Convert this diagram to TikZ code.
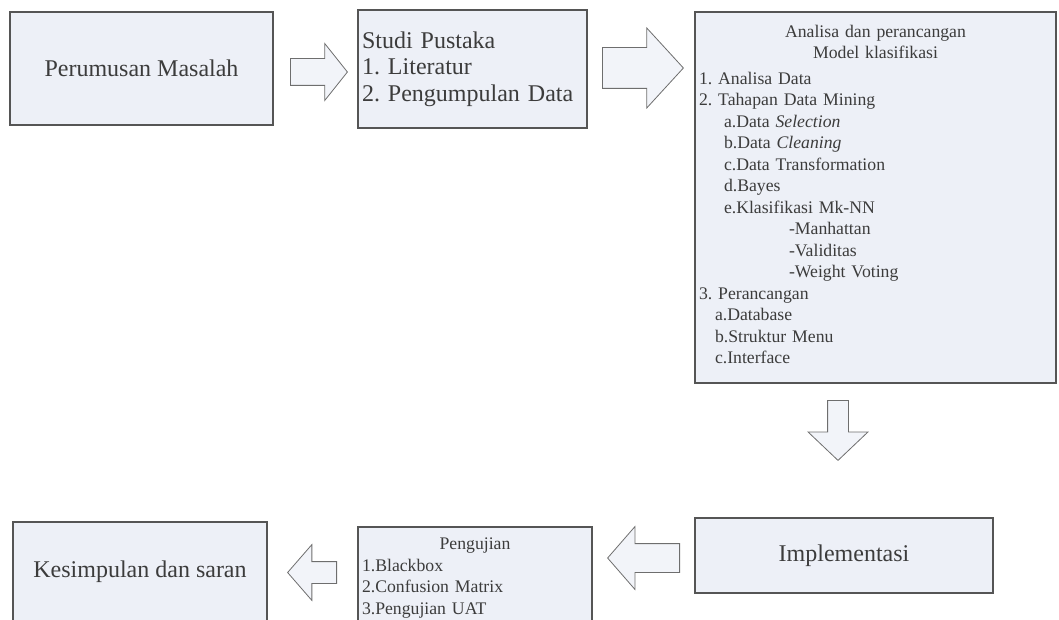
\documentclass[tikz,border=0pt]{standalone}
\usepackage{fontspec}
\setmainfont{Liberation Serif}
\frenchspacing
\usetikzlibrary{shapes.arrows}
\definecolor{boxfill}{RGB}{237,240,247}
\definecolor{boxline}{RGB}{85,85,85}
\definecolor{arrowfill}{RGB}{242,244,249}
\definecolor{arrowline}{RGB}{110,110,110}
\definecolor{txt}{RGB}{60,60,60}
\tikzset{
  stage/.style={draw=boxline, fill=boxfill, line width=1.2pt, inner sep=0pt, text=txt},
  bigtxt/.style={font=\fontsize{24}{26.5}\selectfont},
  smalltxt/.style={font=\fontsize{17.7}{21.5}\selectfont},
  flow/.style={single arrow, draw=arrowline, fill=arrowfill, line width=0.8pt, inner xsep=0pt, anchor=tail},
}
\begin{document}
\begin{tikzpicture}[x=1pt, y=-1pt]
	\useasboundingbox (0,0) rectangle (1059,620);

	\node[stage, bigtxt, minimum width=263, minimum height=113] (perumusan) at (141.5,68.5) {Perumusan Masalah};
	\node[stage, bigtxt, minimum width=229, minimum height=118, text width=221, align=left] (studi) at (472.5,69) {Studi Pustaka\\1. Literatur\\2. Pengumpulan Data};
	\node[stage, smalltxt, minimum width=361, minimum height=371, text width=353, align=left] (analisa) at (875.5,197.5) {%
		\makebox[353pt]{Analisa dan perancangan}\\
		\makebox[353pt]{Model klasifikasi}\\[4pt]
		1. Analisa Data\\
		2. Tahapan Data Mining\\
		\hspace*{25pt}a.Data \textit{Selection}\\
		\hspace*{25pt}b.Data \textit{Cleaning}\\
		\hspace*{25pt}c.Data Transformation\\
		\hspace*{25pt}d.Bayes\\
		\hspace*{25pt}e.Klasifikasi Mk-NN\\
		\hspace*{90pt}-Manhattan\\
		\hspace*{90pt}-Validitas\\
		\hspace*{90pt}-Weight Voting\\
		3. Perancangan\\
		\hspace*{16pt}a.Database\\
		\hspace*{16pt}b.Struktur Menu\\
		\hspace*{16pt}c.Interface\strut};
	\node[stage, bigtxt, minimum width=298, minimum height=75] (implementasi) at (844,555.5) {Implementasi};
	\node[stage, smalltxt, minimum width=234, minimum height=102, text width=226, align=left] (pengujian) at (475,578) {%
		\makebox[226pt]{Pengujian}\\
		1.Blackbox\\
		2.Confusion Matrix\\
		3.Pengujian UAT};
	\node[stage, bigtxt, minimum width=254, minimum height=99] (kesimpulan) at (140,571.5) {Kesimpulan dan saran};

	% block arrows between the stages
	\node[flow, minimum height=57, inner ysep=13, single arrow head extend=15, single arrow tip angle=103] (ar1) at (290,72) {};
	\node[flow, minimum height=81, inner ysep=20, single arrow head extend=19.5, single arrow tip angle=95] (ar2) at (602,68) {};
	\node[flow, minimum height=60, inner xsep=10, inner ysep=0pt, single arrow head extend=19.5, single arrow tip angle=93, shape border rotate=270] (ar3) at (838,400) {};
	\node[flow, minimum height=72, inner ysep=14, single arrow head extend=17, single arrow tip angle=98, shape border rotate=180] (ar4) at (680,558) {};
	\node[flow, minimum height=49, inner ysep=10.5, single arrow head extend=17, single arrow tip angle=98, shape border rotate=180] (ar5) at (337,572.5) {};
\end{tikzpicture}
\end{document}
